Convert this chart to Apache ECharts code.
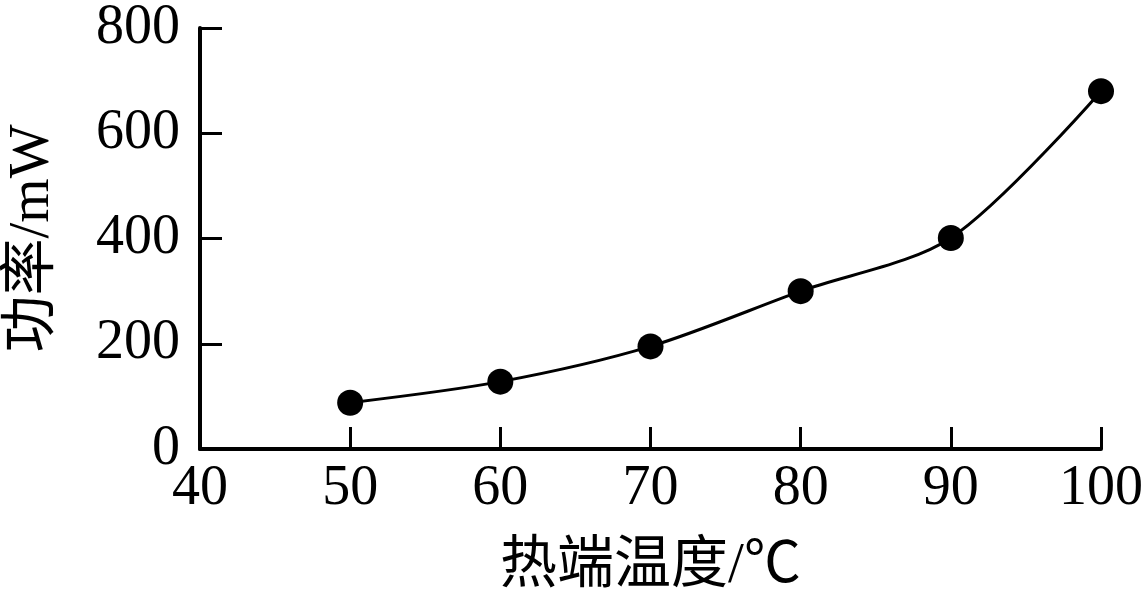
<!DOCTYPE html>
<html>
<head>
<meta charset="utf-8">
<script src="https://cdn.jsdelivr.net/npm/echarts@6/dist/echarts.min.js"></script>
<style>
  html, body { margin: 0; padding: 0; background: #fff; }
  #chart { width: 1147px; height: 599px; }
</style>
</head>
<body>
<div id="chart"></div>
<script>
  // 热端温度 (℃) 与功率 (mW)
  var temps = [50, 60, 70, 80, 90, 100];
  var power = [88, 128, 195, 300, 401, 680];

  var font = '"Liberation Serif", "Times New Roman", "Noto Sans CJK SC", serif';
  var chart = echarts.init(document.getElementById('chart'));

  var points = [];
  for (var i = 0; i < temps.length; i++) {
    points.push([temps[i], power[i]]);
  }

  chart.setOption({
    animation: false,
    grid: { left: 200, right: 46, top: 28, bottom: 150, outerBoundsMode: 'none', containLabel: false },
    xAxis: {
      type: 'value',
      min: 40,
      max: 100,
      interval: 10,
      name: '热端温度/℃',
      nameLocation: 'middle',
      nameGap: 90,
      nameTextStyle: { fontFamily: font, fontSize: 57, color: '#000' },
      axisLine: { lineStyle: { color: '#000', width: 4 } },
      axisTick: { inside: true, length: 22, lineStyle: { color: '#000', width: 3 } },
      axisLabel: { fontFamily: font, fontSize: 56, color: '#000', margin: 12 },
      splitLine: { show: false }
    },
    yAxis: {
      type: 'value',
      min: 0,
      max: 800,
      interval: 200,
      name: '功率/mW',
      nameLocation: 'middle',
      nameRotate: 90,
      nameGap: 138,
      nameTextStyle: { fontFamily: font, fontSize: 57, color: '#000' },
      axisLine: { show: true, lineStyle: { color: '#000', width: 4 } },
      axisTick: { show: true, inside: true, length: 22, lineStyle: { color: '#000', width: 3 } },
      axisLabel: { fontFamily: font, fontSize: 56, color: '#000', margin: 20 },
      splitLine: { show: false }
    },
    series: [{
      type: 'line',
      data: points,
      smooth: 0.3,
      symbol: 'circle',
      symbolSize: 26,
      lineStyle: { color: '#000', width: 3 },
      itemStyle: { color: '#000' }
    }]
  });
</script>
</body>
</html>
